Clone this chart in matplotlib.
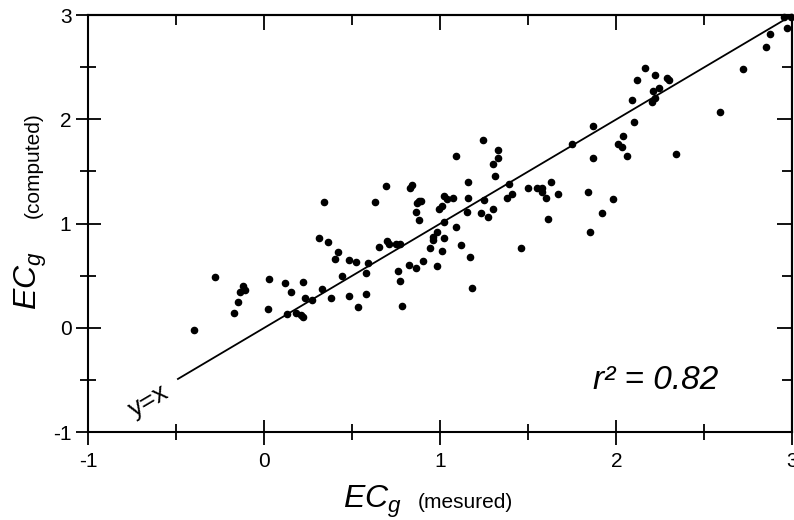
import numpy as np
import matplotlib.pyplot as plt
from matplotlib.ticker import MultipleLocator

plt.rcParams['font.family'] = ['Liberation Sans', 'DejaVu Sans']
plt.rcParams['mathtext.fontset'] = 'custom'
plt.rcParams['mathtext.it'] = 'Liberation Sans:italic'
plt.rcParams['mathtext.rm'] = 'Liberation Sans'
plt.rcParams['axes.unicode_minus'] = False

ec_measured = [0.34, 0.31, 0.36, 0.42, 0.40, 0.48, -0.28, 0.03, 0.12, 0.22,
               0.44, -0.12, -0.14, -0.11, 0.15, 0.33, 0.23, 0.27, 0.38, 0.48,
               -0.15, 0.02, -0.17, 0.13, 0.18, 0.21, 0.22, -0.40,
               0.69, 0.84, 0.83, 0.63, 1.31, 1.16, 1.39, 0.88, 0.89, 0.87,
               1.02, 1.04, 1.07, 1.01, 0.99, 1.16, 1.25, 1.38, 1.41, 1.50,
               1.55, 1.58, 1.58, 1.60, 1.63, 1.67, 1.84, 1.85, 0.86, 0.88,
               1.15, 1.23, 1.30, 1.27, 1.61, 1.02, 1.09, 0.98, 0.96, 0.96,
               1.02, 0.94, 1.01, 1.12, 1.17, 1.46, 0.65, 0.70, 0.71, 0.75,
               0.77, 0.52, 0.59, 0.58, 0.76, 0.82, 0.86, 0.90, 0.98, 0.77,
               0.58, 0.53, 0.78, 1.18, 1.92,
               1.24, 1.09, 1.33, 1.33, 1.30, 1.75, 1.87, 1.87,
               2.09, 2.12, 2.16, 2.22, 2.29, 2.30, 2.21, 2.24, 2.22, 2.20,
               2.10, 2.04, 2.01, 2.03, 2.06, 2.34, 2.59, 2.72, 2.85, 2.87,
               2.95, 2.97, 2.99, 1.98]
ec_computed = [1.21, 0.86, 0.82, 0.73, 0.66, 0.65, 0.49, 0.47, 0.43, 0.44,
               0.50, 0.40, 0.34, 0.36, 0.34, 0.37, 0.29, 0.27, 0.29, 0.31,
               0.25, 0.18, 0.14, 0.13, 0.14, 0.12, 0.10, -0.02,
               1.36, 1.37, 1.34, 1.21, 1.46, 1.40, 1.38, 1.22, 1.22, 1.20,
               1.26, 1.24, 1.25, 1.17, 1.14, 1.25, 1.23, 1.25, 1.28, 1.34,
               1.34, 1.34, 1.30, 1.25, 1.40, 1.28, 1.30, 0.92, 1.11, 1.03,
               1.11, 1.10, 1.14, 1.06, 1.04, 1.02, 0.97, 0.92, 0.87, 0.84,
               0.86, 0.77, 0.74, 0.79, 0.68, 0.77, 0.78, 0.83, 0.80, 0.80,
               0.80, 0.63, 0.62, 0.53, 0.55, 0.60, 0.57, 0.64, 0.59, 0.45,
               0.32, 0.20, 0.21, 0.38, 1.10,
               1.80, 1.65, 1.71, 1.63, 1.57, 1.76, 1.94, 1.63,
               2.19, 2.38, 2.49, 2.43, 2.40, 2.38, 2.27, 2.30, 2.20, 2.17,
               1.97, 1.84, 1.76, 1.73, 1.65, 1.67, 2.07, 2.48, 2.69, 2.82,
               2.98, 2.88, 2.98, 1.24]

line_x = [-0.49, 3.0]
r2_text = 'r² = 0.82'

fig = plt.figure(figsize=(7.94, 5.20), dpi=100)
ax = fig.add_axes([0.111, 0.169, 0.887, 0.802])

ax.scatter(ec_measured, ec_computed, s=20, color='black', zorder=3, clip_on=False)
ax.plot(line_x, line_x, color='black', lw=1.3)

ax.set_xlim(-1, 3)
ax.set_ylim(-1, 3)
for s in ax.spines.values():
    s.set_linewidth(1.5)

ax.xaxis.set_major_locator(MultipleLocator(1))
ax.xaxis.set_minor_locator(MultipleLocator(0.5))
ax.yaxis.set_major_locator(MultipleLocator(1))
ax.yaxis.set_minor_locator(MultipleLocator(0.5))
ax.tick_params(which='major', direction='inout', length=18, width=1.3, labelsize=15)
ax.tick_params(which='minor', direction='inout', length=11, width=1.3)
ax.tick_params(axis='x', which='major', pad=5)
ax.tick_params(axis='y', which='major', pad=3)

# top and right ticks point inward only
top = ax.secondary_xaxis('top')
top.xaxis.set_major_locator(MultipleLocator(1))
top.xaxis.set_minor_locator(MultipleLocator(0.5))
top.tick_params(which='major', direction='in', length=11, width=1.3, labeltop=False)
top.tick_params(which='minor', direction='in', length=7, width=1.3)
top.spines['top'].set_linewidth(1.5)
right = ax.secondary_yaxis('right')
right.yaxis.set_major_locator(MultipleLocator(1))
right.yaxis.set_minor_locator(MultipleLocator(0.5))
right.tick_params(which='major', direction='in', length=11, width=1.3, labelright=False)
right.tick_params(which='minor', direction='in', length=7, width=1.3)
right.spines['right'].set_linewidth(1.5)

ax.text(1.866, -0.587, r2_text, fontsize=24, style='italic', ha='left', va='baseline')
ax.text(-0.655, -0.705, 'y=x', fontsize=19, rotation=30.6, ha='center', va='center')

# axis labels: big EC_g plus small qualifier
fig.text(0.432, 0.023, r'$EC_g$', fontsize=23, ha='left', va='baseline')
fig.text(0.526, 0.023, '(mesured)', fontsize=15, ha='left', va='baseline')
fig.text(0.047, 0.404, r'$EC_g$', fontsize=23, rotation=90, rotation_mode='anchor',
         ha='left', va='baseline')
fig.text(0.049, 0.58, '(computed)', fontsize=15, rotation=90, rotation_mode='anchor',
         ha='left', va='baseline')

fig.savefig('out.png', dpi=100)
